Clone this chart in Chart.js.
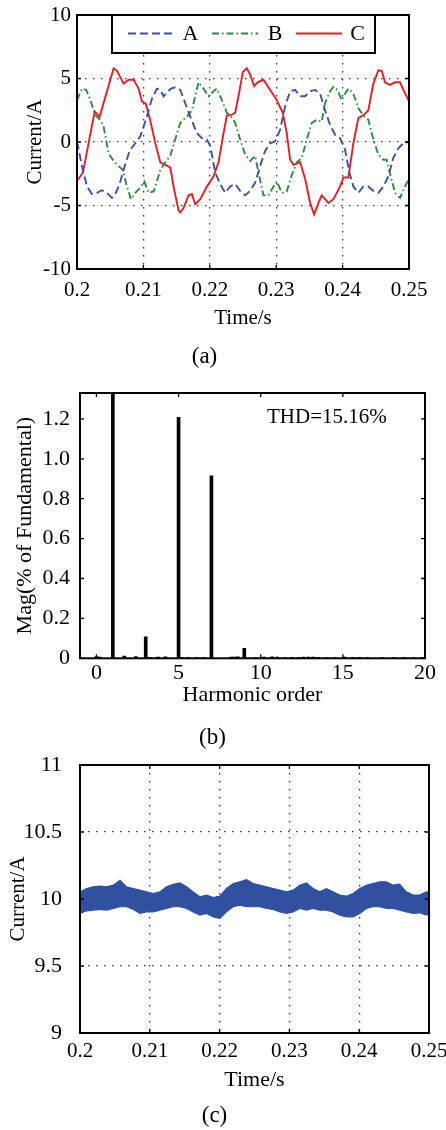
<!DOCTYPE html>
<html><head><meta charset="utf-8">
<script src="https://cdn.jsdelivr.net/npm/chart.js@4/dist/chart.umd.min.js"></script>
<style>
html,body{margin:0;padding:0;background:#fff;}
#wrap{position:relative;width:446px;height:1130px;overflow:hidden;}
canvas{position:absolute;left:0;}
</style></head><body>
<div id="wrap">
<canvas id="ca" width="446" height="375" style="top:0;width:446px;height:375px"></canvas>
<canvas id="cb" width="446" height="380" style="top:375px;width:446px;height:380px"></canvas>
<canvas id="cc" width="446" height="375" style="top:755px;width:446px;height:375px"></canvas>
</div>
<script>
// ---------- (a) three-phase currents ----------
const seriesNames = ['A', 'B', 'C'];
const timeA = [0.2, 0.20075, 0.2015, 0.20226, 0.20301, 0.20376, 0.20451, 0.20527, 0.20577, 0.20642,
  0.20712, 0.20792, 0.20878, 0.20953, 0.21053, 0.21128, 0.21204, 0.21254, 0.21304, 0.21354,
  0.21414, 0.21479, 0.21555, 0.2163, 0.21705, 0.21805, 0.21881, 0.21956, 0.22006, 0.22081,
  0.22156, 0.22232, 0.22307, 0.22382, 0.22457, 0.22533, 0.22608, 0.22683, 0.22758, 0.22833,
  0.22909, 0.22984, 0.23059, 0.23134, 0.2321, 0.23285, 0.2336, 0.23435, 0.23511, 0.23586,
  0.23661, 0.23736, 0.23811, 0.23887, 0.23962, 0.24037, 0.24102, 0.24162, 0.24238, 0.24313,
  0.24388, 0.24463, 0.24539, 0.24614, 0.24689, 0.24764, 0.2484, 0.24915, 0.25];
const currentA = [0.05, -1.9, -3.5, -4.1, -4.0, -3.8, -4.0, -4.4, -4.1, -3.3,
  -2.0, -0.7, -0.1, 0.45, 2.0, 3.4, 4.2, 4.1, 3.6, 3.9,
  4.2, 4.3, 4.1, 3.05, 2.0, 0.7, 0.3, 0.2, -0.3, -2.4,
  -3.3, -4.0, -3.5, -3.3, -3.85, -4.2, -3.85, -3.2, -1.9, -0.7,
  -0.1, 0.05, 0.96, 2.8, 4.0, 4.1, 3.6, 3.6, 4.0, 4.1,
  3.8, 2.5, 1.35, 0.57, 0.3, -0.6, -2.4, -3.5, -4.0, -3.5,
  -3.5, -3.85, -4.0, -3.5, -2.7, -1.25, -0.5, -0.1, 0.0];
const timeB = [0.2, 0.20075, 0.2014, 0.20201, 0.20276, 0.20351, 0.20401, 0.20476, 0.20552, 0.20627,
  0.20692, 0.20742, 0.20812, 0.20878, 0.20953, 0.21013, 0.21078, 0.21153, 0.21204, 0.21254,
  0.21329, 0.21404, 0.21479, 0.21555, 0.21655, 0.2173, 0.2178, 0.2183, 0.21906, 0.21981,
  0.22056, 0.22106, 0.22182, 0.22257, 0.22307, 0.22382, 0.22457, 0.22533, 0.22608, 0.22683,
  0.22733, 0.22808, 0.22884, 0.22959, 0.23009, 0.23084, 0.23159, 0.23235, 0.2331, 0.23385,
  0.2346, 0.23536, 0.23611, 0.23686, 0.23736, 0.23811, 0.23862, 0.23922, 0.23987, 0.24037,
  0.24087, 0.24162, 0.24238, 0.24313, 0.24388, 0.24463, 0.24539, 0.24614, 0.24664, 0.24724,
  0.24789, 0.24865, 0.2494, 0.25];
const currentB = [3.3, 4.2, 4.1, 3.3, 2.1, 1.75, 1.2, -0.9, -1.5, -1.9,
  -2.2, -3.3, -4.5, -4.0, -3.6, -3.1, -4.0, -3.9, -3.1, -2.2,
  -1.6, -1.1, 0.2, 1.5, 2.0, 2.5, 3.6, 4.7, 4.2, 3.6,
  4.0, 4.2, 3.3, 2.3, 2.1, 1.5, 0.2, -1.0, -1.5, -1.1,
  -2.4, -4.2, -4.2, -3.5, -3.1, -4.0, -3.9, -2.6, -1.6, -1.25,
  0.2, 1.5, 1.75, 1.6, 3.05, 4.0, 4.35, 4.1, 3.3, 3.8,
  4.2, 3.8, 2.65, 2.1, 1.75, 0.2, -1.0, -1.4, -1.4, -2.7,
  -4.0, -4.4, -3.5, -2.9];
const timeC = [0.2, 0.2009, 0.20266, 0.20341, 0.20552, 0.20602, 0.20702, 0.20777, 0.20853, 0.20928,
  0.20978, 0.21038, 0.21103, 0.21179, 0.21254, 0.21329, 0.21404, 0.21454, 0.2153, 0.21555,
  0.21605, 0.2168, 0.2173, 0.2178, 0.21856, 0.21956, 0.22056, 0.22131, 0.22207, 0.22257,
  0.22307, 0.22382, 0.22432, 0.22497, 0.22558, 0.22608, 0.22668, 0.22718, 0.22808, 0.22909,
  0.23009, 0.23099, 0.23159, 0.2321, 0.2326, 0.2336, 0.23435, 0.23511, 0.23571, 0.23636,
  0.23686, 0.23736, 0.23786, 0.23862, 0.23962, 0.24012, 0.24087, 0.24162, 0.24238, 0.24313,
  0.24388, 0.24463, 0.24539, 0.24589, 0.24639, 0.24714, 0.24789, 0.24865, 0.24915, 0.25];
const currentC = [-3.07, -2.4, 2.4, 2.0, 5.8, 5.6, 4.6, 4.9, 4.9, 4.2,
  3.2, 3.0, 1.7, -0.1, -1.6, -1.8, -2.0, -3.5, -5.4, -5.55,
  -5.2, -4.2, -4.1, -4.9, -4.5, -3.5, -2.7, -1.6, 0.7, 2.1,
  2.1, 2.3, 3.6, 5.5, 5.8, 5.3, 4.4, 4.7, 4.9, 4.1,
  3.3, 2.3, 0.7, -1.4, -1.8, -1.6, -2.9, -4.8, -5.7, -4.8,
  -4.2, -4.5, -4.8, -4.5, -3.5, -2.8, -2.8, -0.1, 1.9, 2.1,
  2.5, 4.6, 5.65, 5.6, 4.7, 4.5, 4.7, 4.7, 4.1, 3.2];
const timeTicks = [0.2, 0.21, 0.22, 0.23, 0.24, 0.25];
const timeTickLabels = ['0.2', '0.21', '0.22', '0.23', '0.24', '0.25'];
const acTicks = [-10, -5, 0, 5, 10];
const acTickLabels = ['-10', '-5', '0', '5', '10'];

// ---------- (b) harmonic spectrum ----------
const harmonicOrder = [0, 0.2, 1, 1.7, 2.4, 3, 3.25, 3.75, 4.2, 5,
  5.2, 5.6, 6.1, 6.5, 7, 8.2, 8.4, 8.6, 9, 9.7,
  10.2, 10.7, 11.0, 11.5, 11.9, 12.3, 12.6, 12.9, 13.2, 13.5,
  14.0, 14.5, 15.1, 15.6, 16.0, 16.5, 17.4, 18.1, 18.7, 19.3, 19.8];
const magnitude = [0.008, 0.006, 1.35, 0.011, 0.009, 0.108, 0.004, 0.006, 0.007, 1.208,
  0.005, 0.004, 0.004, 0.004, 0.915, 0.006, 0.006, 0.007, 0.05, 0.003,
  0.006, 0.007, 0.006, 0.004, 0.005, 0.005, 0.006, 0.006, 0.006, 0.005,
  0.004, 0.004, 0.006, 0.004, 0.005, 0.004, 0.004, 0.004, 0.004, 0.004, 0.004];
const harmonicTicks = [0, 5, 10, 15, 20];
const harmonicTickLabels = ['0', '5', '10', '15', '20'];
const magTicks = [0, 0.2, 0.4, 0.6, 0.8, 1.0, 1.2];
const magTickLabels = ['0', '0.2', '0.4', '0.6', '0.8', '1.0', '1.2'];
const thdText = 'THD=15.16%';

// ---------- (c) DC current band ----------
const timeDC = [0.2, 0.20095, 0.20191, 0.20286, 0.20382, 0.20477, 0.20573, 0.20668, 0.20763, 0.20859,
  0.20954, 0.2105, 0.21145, 0.2124, 0.21336, 0.21431, 0.21527, 0.21622, 0.21718, 0.21813,
  0.21908, 0.22004, 0.22099, 0.22195, 0.2229, 0.22385, 0.22481, 0.22576, 0.22672, 0.22767,
  0.22863, 0.22958, 0.23053, 0.23149, 0.23244, 0.2334, 0.23435, 0.2353, 0.23626, 0.23721,
  0.23817, 0.23912, 0.24008, 0.24103, 0.24198, 0.24294, 0.24389, 0.24485, 0.2458, 0.24675,
  0.24771, 0.24866, 0.24962, 0.25];
const dcUpper = [10.053, 10.078, 10.091, 10.096, 10.091, 10.103, 10.140, 10.091, 10.078, 10.066,
  10.053, 10.041, 10.053, 10.091, 10.110, 10.120, 10.091, 10.053, 10.016, 10.029,
  10.011, 10.021, 10.078, 10.115, 10.128, 10.145, 10.115, 10.103, 10.091, 10.078,
  10.066, 10.053, 10.066, 10.103, 10.120, 10.078, 10.053, 10.078, 10.053, 10.029,
  10.021, 10.041, 10.078, 10.103, 10.115, 10.128, 10.128, 10.103, 10.110, 10.053,
  10.029, 10.029, 10.053, 10.053];
const dcLower = [9.892, 9.912, 9.917, 9.922, 9.917, 9.929, 9.942, 9.942, 9.922, 9.892,
  9.904, 9.904, 9.917, 9.929, 9.942, 9.942, 9.929, 9.904, 9.880, 9.892,
  9.867, 9.855, 9.904, 9.942, 9.954, 9.942, 9.942, 9.942, 9.929, 9.922,
  9.904, 9.892, 9.904, 9.929, 9.917, 9.929, 9.917, 9.917, 9.904, 9.880,
  9.867, 9.867, 9.892, 9.929, 9.942, 9.942, 9.929, 9.929, 9.917, 9.904,
  9.892, 9.897, 9.880, 9.892];
const dcTicks = [9, 9.5, 10, 10.5, 11];
const dcTickLabels = ['9', '9.5', '10', '10.5', '11'];

// ---------- helpers ----------
const FONT = "'Liberation Serif', 'Times New Roman', serif";
Chart.defaults.font.family = FONT;
Chart.defaults.color = '#000';
Chart.defaults.animation = false;
const F = (size, lh) => ({family: FONT, size: size, weight: 'normal', lineHeight: lh});

const pts = (xs, ys) => xs.map((x, i) => ({x: x, y: ys[i]}));
const fixedTicks = vals => scale => { scale.ticks = vals.map(v => ({value: v})); };
const labelFrom = (vals, labels) => v => {
  const i = vals.findIndex(t => Math.abs(t - v) < 1e-9);
  return i >= 0 ? labels[i] : '';
};
const DOT = [1.5, 6.5];

function framePlugin(tickLen) {
  return {
    id: 'frame',
    afterDatasetsDraw(chart) {
      const {ctx, chartArea: ca, scales} = chart;
      ctx.save();
      ctx.setLineDash([]);
      ctx.strokeStyle = '#000';
      ctx.lineWidth = 1.3;
      ctx.beginPath();
      scales.x.ticks.forEach(t => {
        const p = scales.x.getPixelForValue(t.value);
        ctx.moveTo(p, ca.bottom); ctx.lineTo(p, ca.bottom - tickLen);
        ctx.moveTo(p, ca.top); ctx.lineTo(p, ca.top + tickLen);
      });
      scales.y.ticks.forEach(t => {
        const p = scales.y.getPixelForValue(t.value);
        ctx.moveTo(ca.left, p); ctx.lineTo(ca.left + tickLen, p);
        ctx.moveTo(ca.right, p); ctx.lineTo(ca.right - tickLen, p);
      });
      ctx.stroke();
      ctx.lineWidth = 2;
      ctx.strokeRect(ca.left, ca.top, ca.right - ca.left, ca.bottom - ca.top);
      ctx.restore();
    }
  };
}

const legendBoxPlugin = {
  id: 'legendBox',
  afterDatasetsDraw(chart) {
    const {ctx, chartArea: ca} = chart;
    const x0 = ca.left + 35, y0 = ca.top, w = 263, h = 38;
    ctx.save();
    ctx.fillStyle = '#fff';
    ctx.fillRect(x0, y0, w, h);
    ctx.setLineDash([]);
    ctx.lineWidth = 2;
    ctx.strokeStyle = '#000';
    ctx.strokeRect(x0, y0, w, h);
    const lineStarts = [16, 100, 184];
    const textCenters = [78.5, 163, 245.5];
    chart.data.datasets.forEach((ds, i) => {
      ctx.beginPath();
      ctx.strokeStyle = ds.borderColor;
      ctx.lineWidth = ds.borderWidth;
      ctx.setLineDash(ds.borderDash || []);
      ctx.moveTo(x0 + lineStarts[i], y0 + 18.5);
      ctx.lineTo(x0 + lineStarts[i] + 46, y0 + 18.5);
      ctx.stroke();
      ctx.setLineDash([]);
      ctx.fillStyle = '#000';
      ctx.font = '22px ' + FONT;
      ctx.textAlign = 'center';
      ctx.textBaseline = 'middle';
      ctx.fillText(ds.label, x0 + textCenters[i], y0 + 19);
    });
    ctx.restore();
  }
};

const thdPlugin = {
  id: 'thd',
  afterDatasetsDraw(chart) {
    const {ctx, chartArea: ca} = chart;
    ctx.save();
    ctx.fillStyle = '#000';
    ctx.font = '21px ' + FONT;
    ctx.textAlign = 'left';
    ctx.textBaseline = 'middle';
    ctx.fillText(thdText, ca.left + 187, ca.top + 24);
    ctx.restore();
  }
};

function captionTitle(text, bottomPad) {
  return {display: true, position: 'bottom', text: text, color: '#000',
    font: F(23, 1.2), padding: {top: 0, bottom: bottomPad}};
}

// ---------- chart (a) ----------
new Chart(document.getElementById('ca'), {
  type: 'line',
  data: {
    datasets: [
      {label: seriesNames[0], data: pts(timeA, currentA), borderColor: '#3a4fae', borderWidth: 1.9,
        borderDash: [8, 4], pointRadius: 0, tension: 0, fill: false},
      {label: seriesNames[1], data: pts(timeB, currentB), borderColor: '#2b8c3c', borderWidth: 1.9,
        borderDash: [7, 3, 1.5, 3], pointRadius: 0, tension: 0, fill: false},
      {label: seriesNames[2], data: pts(timeC, currentC), borderColor: '#ec1c24', borderWidth: 1.9,
        pointRadius: 0, tension: 0, fill: false}
    ]
  },
  options: {
    responsive: false, animation: false,
    layout: {padding: {top: 15, right: 37, left: 0, bottom: 0}},
    plugins: {legend: {display: false}, tooltip: {enabled: false}, title: captionTitle('(a)', 4)},
    scales: {
      x: {type: 'linear', min: 0.2, max: 0.25,
        afterBuildTicks: fixedTicks(timeTicks),
        afterFit(s) { s.height = 74.4; s.paddingLeft = 0; s.paddingRight = 0; },
        ticks: {callback: labelFrom(timeTicks, timeTickLabels), font: F(21, 1), color: '#000',
          padding: 10.5, maxRotation: 0, autoSkip: false},
        grid: {display: true, drawTicks: false, color: '#333', lineWidth: 1.3, borderDash: DOT},
        border: {display: false, dash: DOT},
        title: {display: true, text: 'Time/s', color: '#000', font: F(21, 1.2), padding: {top: 0, bottom: 12.8}}
      },
      y: {type: 'linear', min: -10, max: 10,
        afterBuildTicks: fixedTicks(acTicks),
        afterFit(s) { s.width = 77; s.paddingTop = 0; s.paddingBottom = 0; },
        ticks: {callback: labelFrom(acTicks, acTickLabels), font: F(21, 1), color: '#000', padding: 6, autoSkip: false},
        grid: {display: true, drawTicks: false, color: '#333', lineWidth: 1.3, borderDash: DOT},
        border: {display: false, dash: DOT},
        title: {display: true, text: 'Current/A', color: '#000', font: F(21, 1.2), padding: {top: 22.4, bottom: 0}}
      }
    }
  },
  plugins: [framePlugin(4), legendBoxPlugin]
});

// ---------- chart (b) ----------
new Chart(document.getElementById('cb'), {
  type: 'bar',
  data: {
    datasets: [{label: 'Mag', data: pts(harmonicOrder, magnitude), backgroundColor: '#000',
      borderWidth: 0, barThickness: 3}]
  },
  options: {
    responsive: false, animation: false,
    layout: {padding: {top: 18, right: 21, left: 0, bottom: 0}},
    plugins: {legend: {display: false}, tooltip: {enabled: false}, title: captionTitle('(b)', 2.9)},
    scales: {
      x: {type: 'linear', min: -1, max: 20, offset: false,
        afterBuildTicks: fixedTicks(harmonicTicks),
        afterFit(s) { s.height = 66.2; s.paddingLeft = 0; s.paddingRight = 0; },
        ticks: {callback: labelFrom(harmonicTicks, harmonicTickLabels), font: F(22, 1), color: '#000',
          padding: 4, maxRotation: 0, autoSkip: false},
        grid: {display: false, drawTicks: false},
        border: {display: false},
        title: {display: true, text: 'Harmonic order', color: '#000', font: F(22, 1.2), padding: {top: 0, bottom: 16.3}}
      },
      y: {type: 'linear', min: 0, max: 1.33,
        afterBuildTicks: fixedTicks(magTicks),
        afterFit(s) { s.width = 80; s.paddingTop = 0; s.paddingBottom = 0; },
        ticks: {callback: labelFrom(magTicks, magTickLabels), font: F(22, 1), color: '#000', padding: 10, autoSkip: false},
        grid: {display: false, drawTicks: false},
        border: {display: false},
        title: {display: true, text: 'Mag(% of Fundamental)', color: '#000', font: F(22, 1.2), padding: {top: 11.8, bottom: 0}}
      }
    }
  },
  plugins: [framePlugin(4), thdPlugin]
});

// ---------- chart (c) ----------
new Chart(document.getElementById('cc'), {
  type: 'line',
  data: {
    datasets: [
      {label: 'upper', data: pts(timeDC, dcUpper), borderColor: '#3050a0', backgroundColor: '#3050a0',
        borderWidth: 1.2, pointRadius: 0, tension: 0, fill: '+1'},
      {label: 'lower', data: pts(timeDC, dcLower), borderColor: '#3050a0', backgroundColor: '#3050a0',
        borderWidth: 1.2, pointRadius: 0, tension: 0, fill: false}
    ]
  },
  options: {
    responsive: false, animation: false,
    layout: {padding: {top: 10, right: 17, left: 0, bottom: 0}},
    plugins: {legend: {display: false}, tooltip: {enabled: false}, title: captionTitle('(c)', 0)},
    scales: {
      x: {type: 'linear', min: 0.2, max: 0.25,
        afterBuildTicks: fixedTicks(timeTicks),
        afterFit(s) { s.height = 69.4; s.paddingLeft = 0; s.paddingRight = 0; },
        ticks: {callback: labelFrom(timeTicks, timeTickLabels), font: F(21, 1), color: '#000',
          padding: 8, maxRotation: 0, autoSkip: false},
        grid: {display: true, drawTicks: false, color: '#333', lineWidth: 1.3, borderDash: DOT},
        border: {display: false, dash: DOT},
        title: {display: true, text: 'Time/s', color: '#000', font: F(22, 1.2), padding: {top: 0, bottom: 9.2}}
      },
      y: {type: 'linear', min: 9, max: 11,
        afterBuildTicks: fixedTicks(dcTicks),
        afterFit(s) { s.width = 80; s.paddingTop = 0; s.paddingBottom = 0; },
        ticks: {callback: labelFrom(dcTicks, dcTickLabels), font: F(22, 1), color: '#000', padding: 18, autoSkip: false},
        grid: {display: true, drawTicks: false, color: '#333', lineWidth: 1.3, borderDash: DOT},
        border: {display: false, dash: DOT},
        title: {display: true, text: 'Current/A', color: '#000', font: F(21, 1.2), padding: {top: 5.4, bottom: 0}}
      }
    }
  },
  plugins: [framePlugin(4)]
});
</script>
</body></html>
